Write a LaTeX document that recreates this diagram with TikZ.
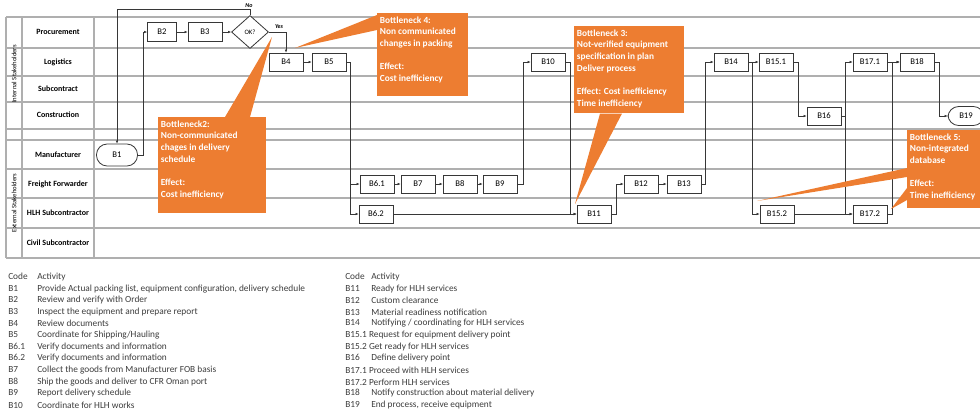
\documentclass[tikz,border=0pt]{standalone}
\usepackage{fontspec}
\setmainfont{Carlito}
\usetikzlibrary{shapes.geometric,arrows.meta,calc}
\definecolor{bnorange}{RGB}{237,125,49}
\definecolor{gridgray}{RGB}{175,175,175}
\definecolor{boxline}{RGB}{55,55,55}
\definecolor{legtext}{RGB}{60,60,60}

\begin{document}
\begin{tikzpicture}[x=0.75pt, y=-0.75pt,
    grid/.style={draw=gridgray, line width=0.8pt},
    box/.style={draw=boxline, line width=0.6pt, fill=white, minimum width=34*0.75pt,
        minimum height=18*0.75pt, inner sep=0pt, font=\fontsize{6.5}{7}\selectfont},
    term/.style={box, rounded corners=8pt, minimum width=41*0.75pt, minimum height=22*0.75pt},
    decision/.style={diamond, draw=boxline, line width=0.6pt, fill=white, minimum width=37*0.75pt,
        minimum height=33*0.75pt, inner sep=0pt, font=\fontsize{5}{6}\selectfont},
    flow/.style={draw=boxline, line width=0.5pt, -{Latex[length=2.2pt,width=2pt]}},
    flag/.style={font=\bfseries\itshape\fontsize{4.5}{5}\selectfont, inner sep=0pt},
    lane/.style={font=\bfseries\fontsize{6}{7}\selectfont, inner sep=0pt},
    group/.style={rotate=90, font=\fontsize{5}{6}\selectfont, inner sep=0pt},
    bnbox/.style={fill=bnorange, anchor=north west, inner sep=0pt},
    bntext/.style={anchor=north west, text=white, align=left, inner xsep=2pt, inner ysep=2.5pt,
        font=\bfseries\fontsize{7}{8.75}\selectfont},
    wedge/.style={fill=bnorange},
    legend/.style={anchor=west, inner sep=0pt, text=legtext, font=\fontsize{7}{8}\selectfont}]
    \useasboundingbox (0,0) rectangle (980,415);

    % Tabla de carriles
    \draw[grid] (6,17) -- (980,17);
    \draw[grid] (6,48) -- (980,48);
    \draw[grid] (6,76) -- (980,76);
    \draw[grid] (6,102) -- (980,102);
    \draw[grid] (6,129) -- (980,129);
    \draw[grid] (6,140) -- (980,140);
    \draw[grid] (6,169) -- (980,169);
    \draw[grid] (6,198) -- (980,198);
    \draw[grid] (6,228) -- (980,228);
    \draw[grid] (6,258) -- (980,258);
    \draw[grid] (6,17) -- (6,258);
    \draw[grid] (22,17) -- (22,258);
    \draw[grid] (94,17) -- (94,258);

    % Nombres de los carriles
    \node[group] (gInt) at (14,74) {Internal Stakeholders};
    \node[group] (gExt) at (14,203) {External Stakeholders};
    \node[lane] (lProc) at (58,32) {Procurement};
    \node[lane] (lLog) at (58,62) {Logistics};
    \node[lane] (lSub) at (58,89) {Subcontract};
    \node[lane] (lCon) at (58,115) {Construction};
    \node[lane] (lMan) at (58,155) {Manufacturer};
    \node[lane] (lFF) at (58,184) {Freight Forwarder};
    \node[lane] (lHLH) at (58,213) {HLH Subcontractor};
    \node[lane] (lCiv) at (58,243) {Civil Subcontractor};

    % Actividades
    \node[term] (B1) at (117,155) {B1};
    \node[box, minimum width=29*0.75pt, minimum height=19*0.75pt] (B2) at (162,32) {B2};
    \node[box, minimum height=19*0.75pt] (B3) at (205,32) {B3};
    \node[decision] (OK) at (250,32) {OK?};
    \node[box] (B4) at (286,62) {B4};
    \node[box] (B5) at (329,62) {B5};
    \node[box] (B61) at (377,184) {B6.1};
    \node[box] (B7) at (418,184) {B7};
    \node[box] (B8) at (460,184) {B8};
    \node[box] (B9) at (500,184) {B9};
    \node[box] (B62) at (376,214) {B6.2};
    \node[box] (B10) at (548,62) {B10};
    \node[box] (B11) at (594,214) {B11};
    \node[box] (B12) at (641,184) {B12};
    \node[box] (B13) at (684,184) {B13};
    \node[box] (B14) at (731,62) {B14};
    \node[box] (B151) at (776,62) {B15.1};
    \node[box] (B152) at (777,214) {B15.2};
    \node[box] (B16) at (824,116) {B16};
    \node[box] (B171) at (870,62) {B17.1};
    \node[box] (B172) at (870,214) {B17.2};
    \node[box] (B18) at (917,62) {B18};
    \node[term, minimum width=36*0.75pt, minimum height=19*0.75pt] (B19) at (966,116) {B19};

    \node[flag] (no) at (249,6) {No};
    \node[flag] (yes) at (279,27) {Yes};

    % Flujo
    \draw[flow] (B1.east) -- ++(5,0) |- (B2.west);
    \draw[flow] (B2) -- (B3);
    \draw[flow] (B3) -- (OK);
    \draw[flow] (OK.north) -- ++(0,-6) -| (B1.north);
    \draw[flow] (OK.east) -| (B4.north);
    \draw[flow] (B4) -- (B5);
    \draw[flow] (B5.east) -- ++(4,0) |- (B61.west);
    \draw[flow] (B5.east) -- ++(4,0) |- (B62.west);
    \draw[flow] (B61) -- (B7);
    \draw[flow] (B7) -- (B8);
    \draw[flow] (B8) -- (B9);
    \draw[flow] (B9.east) -- ++(6,0) |- (B10.west);
    \draw[flow] (B10.east) -- ++(5,0) |- (B11.west);
    \draw[flow] (B62.east) -- (B11.west);
    \draw[flow] (B11.east) -- ++(5,0) |- (B12.west);
    \draw[flow] (B12) -- (B13);
    \draw[flow] (B13.east) -- ++(4,0) |- (B14.west);
    \draw[flow] (B14) -- (B151);
    \draw[flow] (B14.east) -- ++(4,0) |- (B152.west);
    \draw[flow] (B151.east) -- ++(5,0) |- (B16.west);
    \draw[flow] (B152) -- (B172);
    \draw[flow] (B16.east) -- ++(4,0) |- (B171.west);
    \draw[flow] (B16.east) -- ++(4,0) |- (B172.west);
    \draw[flow] (B171) -- (B18);
    \draw[flow] (B172.east) -- ++(5,0) |- (B18.west);
    \draw[flow] (B18.east) -- ++(5,0) |- (B19.west);

    % Cuellos de botella
    \node[bnbox, minimum width=108*0.75pt, minimum height=96*0.75pt] (bn2) at (158,117) {};
    \node[bnbox, minimum width=110*0.75pt, minimum height=87*0.75pt] (bn3) at (574,26) {};
    \node[bnbox, minimum width=91*0.75pt, minimum height=83*0.75pt] (bn4) at (377,13) {};
    \node[bnbox, minimum width=80*0.75pt, minimum height=78*0.75pt] (bn5) at (907,130) {};

    \coordinate (t2) at (272,37);
    \coordinate (t3) at (575,204);
    \coordinate (t4) at (295,48);
    \coordinate (t5a) at (757,201);
    \coordinate (t5b) at (891,209);
    \fill[wedge] ($(bn2.north west)+(67,0)$) -- (t2) -- ($(bn2.north west)+(92,0)$) -- cycle;
    \fill[wedge] ($(bn3.south west)+(26,0)$) -- (t3) -- ($(bn3.south west)+(48,0)$) -- cycle;
    \fill[wedge] ($(bn4.north west)+(0,2)$) -- (t4) -- ($(bn4.north west)+(0,17)$) -- cycle;
    \fill[wedge] ($(bn5.north west)+(0,38)$) -- (t5a) -- ($(bn5.north west)+(0,47)$) -- cycle;
    \fill[wedge] ($(bn5.north west)+(0,58)$) -- (t5b) -- ($(bn5.north west)+(0,70)$) -- cycle;

    \node[bntext] (bn2t) at (bn2.north west) {Bottleneck2:\\Non-communicated\\chages in delivery\\schedule\\[8.75pt]Effect:\\Cost inefficiency};
    \node[bntext] (bn3t) at (bn3.north west) {Bottleneck 3:\\Not-verified equipment\\specification in plan\\Deliver process\\[8.75pt]Effect: Cost inefficiency\\Time inefficiency};
    \node[bntext] (bn4t) at (bn4.north west) {Bottleneck 4:\\Non communicated\\changes in packing\\[8.75pt]Effect:\\Cost inefficiency};
    \node[bntext] (bn5t) at (bn5.north west) {Bottleneck 5:\\Non-integrated\\database\\[8.75pt]Effect:\\Time inefficiency};

    % Leyenda
    \node[legend] (la0) at (8,277) {\makebox[21.75pt][l]{Code}Activity};
    \node[legend] (la1) at (8,289) {\makebox[21.75pt][l]{B1}Provide Actual packing list, equipment configuration, delivery schedule};
    \node[legend] (la2) at (8,300) {\makebox[21.75pt][l]{B2}Review and verify with Order};
    \node[legend] (la3) at (8,312) {\makebox[21.75pt][l]{B3}Inspect the equipment and prepare report};
    \node[legend] (la4) at (8,323) {\makebox[21.75pt][l]{B4}Review documents};
    \node[legend] (la5) at (8,335) {\makebox[21.75pt][l]{B5}Coordinate for Shipping/Hauling};
    \node[legend] (la6) at (8,347) {\makebox[21.75pt][l]{B6.1}Verify documents and information};
    \node[legend] (la7) at (8,358) {\makebox[21.75pt][l]{B6.2}Verify documents and information};
    \node[legend] (la8) at (8,370) {\makebox[21.75pt][l]{B7}Collect the goods from Manufacturer FOB basis};
    \node[legend] (la9) at (8,382) {\makebox[21.75pt][l]{B8}Ship the goods and deliver to CFR Oman port};
    \node[legend] (la10) at (8,393) {\makebox[21.75pt][l]{B9}Report delivery schedule};
    \node[legend] (la11) at (8,405) {\makebox[21.75pt][l]{B10}Coordinate for HLH works};

    \node[legend] (lb0) at (345,277) {\makebox[19.5pt][l]{Code}Activity};
    \node[legend] (lb1) at (345,289) {\makebox[19.5pt][l]{B11}Ready for HLH services};
    \node[legend] (lb2) at (345,300) {\makebox[19.5pt][l]{B12}Custom clearance};
    \node[legend] (lb3) at (345,312) {\makebox[19.5pt][l]{B13}Material readiness notification};
    \node[legend] (lb4) at (345,323) {\makebox[19.5pt][l]{B14}Notifying / coordinating for HLH services};
    \node[legend] (lb5) at (345,335) {B15.1 Request for equipment delivery point};
    \node[legend] (lb6) at (345,347) {B15.2 Get ready for HLH services};
    \node[legend] (lb7) at (345,358) {\makebox[19.5pt][l]{B16}Define delivery point};
    \node[legend] (lb8) at (345,370) {B17.1 Proceed with HLH services};
    \node[legend] (lb9) at (345,382) {B17.2 Perform HLH services};
    \node[legend] (lb10) at (345,393) {\makebox[19.5pt][l]{B18}Notify construction about material delivery};
    \node[legend] (lb11) at (345,405) {\makebox[19.5pt][l]{B19}End process, receive equipment};
\end{tikzpicture}
\end{document}
